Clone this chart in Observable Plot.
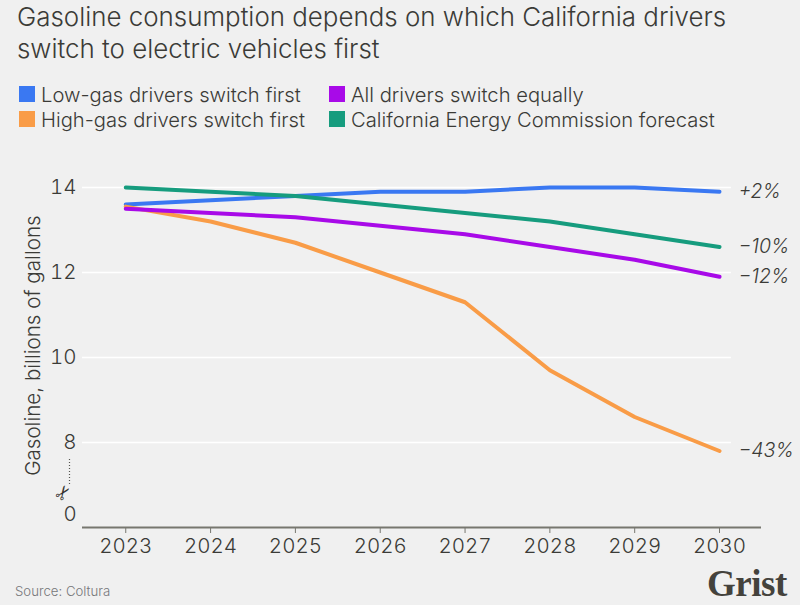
<!DOCTYPE html>
<html><head><meta charset="utf-8">
<script src="https://cdn.jsdelivr.net/npm/d3@7"></script>
<script src="https://cdn.jsdelivr.net/npm/@observablehq/plot@0.6"></script>
<style>
html,body{margin:0;padding:0;background:#f0f0f0;overflow:hidden}
body{width:800px;height:605px;position:relative;font-family:Inter,sans-serif;color:#3b3b37}
#head{height:150px;position:relative}
h1{position:absolute;left:17px;top:1px;margin:0;font-size:25.9px;line-height:32px;font-weight:300;white-space:nowrap}
.lg{position:absolute;font-size:20.2px;line-height:24px;font-weight:300;white-space:nowrap}
.sw{position:absolute;width:16px;height:16px}
#plot svg{display:block}
#foot{position:relative;height:40px}
#src{position:absolute;left:15px;top:18px;font-size:13.2px;color:#77777a;font-weight:300}
#logo{position:absolute;left:707px;top:-3px;font-family:"Liberation Serif",serif;font-weight:700;font-size:37px;color:#44423c;letter-spacing:-.5px}
</style></head><body>
<div id="head"><h1 id="title"></h1><div id="legend"></div></div>
<div id="plot"></div>
<div id="foot"><div id="src"></div><div id="logo"></div></div>
<script>
const titleLines = ["Gasoline consumption depends on which California drivers","switch to electric vehicles first"];
const years = [2023,2024,2025,2026,2027,2028,2029,2030];
const lowGas  = [13.6,13.7,13.8,13.9,13.9,14.0,14.0,13.9];
const highGas = [13.55,13.2,12.7,12.0,11.3,9.7,8.6,7.8];
const allEq   = [13.5,13.4,13.3,13.1,12.9,12.6,12.3,11.9];
const cec     = [14.0,13.9,13.8,13.6,13.4,13.2,12.9,12.6];
const seriesNames = ["Low-gas drivers switch first","High-gas drivers switch first","All drivers switch equally","California Energy Commission forecast"];
const seriesColors = ["#3a78f2","#f99c47","#a80ae8","#169c7e"];
const endLabels = ["+2%","−43%","−12%","−10%"];
const yTicks = [8,10,12,14];

document.getElementById("title").innerHTML = titleLines.join("<br>");
document.getElementById("src").textContent = "Source: Coltura";
document.getElementById("logo").textContent = "Grist";
const lgPos = [[19,86],[19,111],[329,86],[329,111]];
const lg = document.getElementById("legend");
seriesNames.forEach((n,i)=>{
  const [x,y]=lgPos[i];
  lg.insertAdjacentHTML("beforeend",
   `<div class="sw" style="left:${x}px;top:${y}px;background:${seriesColors[i]}"></div><div class="lg" style="left:${x+22}px;top:${y-3}px">${n}</div>`);
});

const valuesBySeries = [lowGas,highGas,allEq,cec];
const rows = valuesBySeries.flatMap((vals,s)=>vals.map((v,i)=>({year:years[i],value:v,series:seriesNames[s]})));
const ends = valuesBySeries.map((vals,s)=>({year:years[years.length-1],value:vals[vals.length-1],label:endLabels[s]}));
const textCol = "#3b3b37";
const xStart = 2022.49, xEnd = 2030.495, gridEnd = 2030.14, yFloor = 6;

const chart = Plot.plot({
  width:800, height:415,
  marginTop:37, marginBottom:38, marginLeft:82, marginRight:39,
  style:{background:"transparent",fontFamily:"Inter,sans-serif",color:textCol,fontWeight:300,overflow:"visible"},
  x:{domain:[xStart,xEnd]},
  y:{domain:[yFloor,14]},
  color:{domain:seriesNames,range:seriesColors},
  marks:[
    Plot.ruleY(yTicks,{x1:xStart,x2:gridEnd,stroke:"#fff",strokeWidth:1.3}),
    Plot.ruleY([yFloor],{x1:xStart,x2:xEnd,stroke:"#77776f",strokeWidth:2}),
    Plot.axisX({ticks:years,tickFormat:d=>String(d),tickSize:6,tickPadding:5,label:null,fontSize:20.5,stroke:"#77776f",color:textCol}),
    Plot.axisY({ticks:yTicks,tickSize:0,tickPadding:6,label:null,fontSize:20.5,color:textCol}),
    Plot.text([0],{x:xStart,y:()=>6.3,text:d=>String(d),dx:-6,textAnchor:"end",fontSize:20.5}),
    Plot.text(["Gasoline, billions of gallons"],{x:xStart,y:()=>10.28,text:d=>d,dx:-49,rotate:-90,fontSize:20.6}),
    Plot.ruleX([xStart],{y1:7.6,y2:7.0,dx:-13,stroke:"#55554f",strokeWidth:1.2,strokeDasharray:"1 2"}),
    Plot.text(["✂"],{x:xStart,y:()=>6.82,text:d=>d,dx:-19,rotate:-55,fontSize:19,fontFamily:"DejaVu Sans",fill:"#33332f"}),
    Plot.line(rows,{x:"year",y:"value",z:"series",stroke:"series",strokeWidth:4,strokeLinecap:"round",strokeLinejoin:"round",curve:"linear"}),
    Plot.text(ends,{x:"year",y:"value",text:"label",dx:19,textAnchor:"start",fontSize:19.5,fontStyle:"italic"})
  ]
});
document.getElementById("plot").appendChild(chart);
</script>
</body></html>
